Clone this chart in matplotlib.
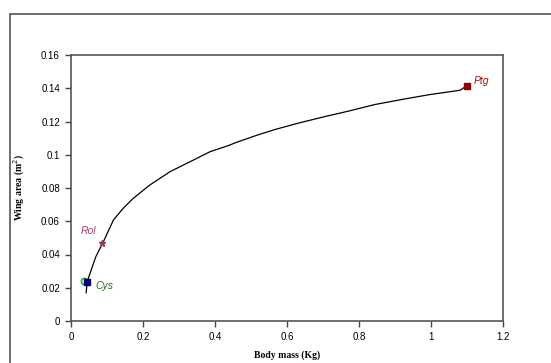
import matplotlib.pyplot as plt
from matplotlib.patches import Rectangle

# fitted wing area curve, sampled along body mass
mass = [0.042, 0.045, 0.069, 0.090, 0.118, 0.145, 0.173, 0.219, 0.275, 0.340,
        0.386, 0.437, 0.460, 0.520, 0.567, 0.631, 0.706, 0.770, 0.844, 0.928,
        0.997, 1.081, 1.099]
area = [0.017, 0.0237, 0.0387, 0.0477, 0.0608, 0.0678, 0.0738, 0.0818, 0.0898,
        0.0968, 0.1018, 0.1055, 0.1075, 0.1120, 0.1152, 0.1190, 0.1230, 0.1262,
        0.1302, 0.1336, 0.1362, 0.1388, 0.1415]

# species points
sp_names = ['Cys', 'Rol', 'Ptg']
sp_mass = [0.045, 0.087, 1.099]
sp_area = [0.0237, 0.0467, 0.1415]
cys_alt = (0.036, 0.0243)

fig = plt.figure(figsize=(5.51, 3.63), dpi=100)
fig.patches.append(Rectangle((10 / 551, -0.1), 1.2, 1 - 14 / 363 + 0.1,
                             transform=fig.transFigure, fill=False,
                             edgecolor='#555555', linewidth=1.2))

ax = fig.add_axes([71 / 551, 1 - 321 / 363, 432 / 551, 266 / 363])
ax.plot(mass, area, color='black', linewidth=0.9)

ax.plot(*cys_alt, marker='o', markersize=4.5, markerfacecolor='none',
        markeredgecolor='#33aa33', markeredgewidth=1.2)
ax.plot(sp_mass[0], sp_area[0], marker='s', markersize=4.5, color='#000080')
ax.plot(sp_mass[1], sp_area[1], marker='*', markersize=5, color='#993366')
ax.plot(sp_mass[2], sp_area[2], marker='s', markersize=5, color='#8b0000')

ax.text(0.067, 0.0195, sp_names[0], color='#1f6b1f', style='italic',
        fontsize=7.5, family='Liberation Sans')
ax.text(0.027, 0.0525, sp_names[1], color='#a04070', style='italic',
        fontsize=7.5, family='Liberation Sans')
ax.text(1.118, 0.1425, sp_names[2], color='#a01010', style='italic',
        fontsize=7.5, family='Liberation Sans')

ax.set_xlim(0, 1.2)
ax.set_ylim(0, 0.16)
ax.set_xticks([0, 0.2, 0.4, 0.6, 0.8, 1, 1.2])
ax.set_xticklabels(['0', '0.2', '0.4', '0.6', '0.8', '1', '1.2'])
ax.set_yticks([0, 0.02, 0.04, 0.06, 0.08, 0.1, 0.12, 0.14, 0.16])
ax.set_yticklabels(['0', '0.02', '0.04', '0.06', '0.08', '0.1', '0.12',
                    '0.14', '0.16'])
ax.tick_params(direction='out', length=4, width=1, color='#444444',
               labelsize=7, pad=4)
for lbl in ax.get_xticklabels() + ax.get_yticklabels():
    lbl.set_family('Liberation Sans')
for s in ax.spines.values():
    s.set_color('#555555')
    s.set_linewidth(1.2)

ax.set_xlabel('Body mass (Kg)', family='Liberation Serif', fontweight='bold',
              fontsize=7, labelpad=6)
ax.set_ylabel('Wing area (m$^2$)', family='Liberation Serif',
              fontweight='bold', fontsize=7, labelpad=10)

plt.savefig('out.png')
